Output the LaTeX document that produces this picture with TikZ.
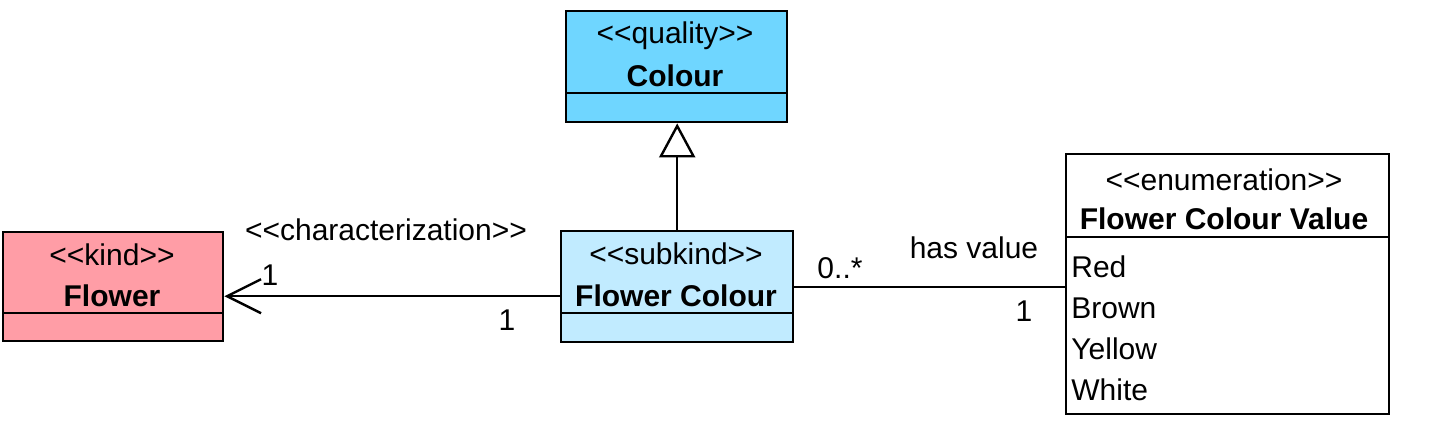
\documentclass[tikz,border=0pt]{standalone}
\usepackage{fontspec}
\setmainfont{Liberation Sans}
\usetikzlibrary{arrows.meta}
\definecolor{kindpink}{RGB}{255,157,166}
\definecolor{qualblue}{RGB}{111,214,255}
\definecolor{subblue}{RGB}{193,235,255}
\newcommand{\ltlt}{<\kern0pt<}
\newcommand{\gtgt}{>\kern0pt>}
\begin{document}
\begin{tikzpicture}[x=0.5pt,y=-0.5pt,
  cls/.style={draw=black, line width=1.2pt, inner sep=0pt, anchor=north west, rectangle},
  divider/.style={draw=black, line width=1.2pt},
  txt/.style={inner sep=0pt, anchor=base, font=\fontsize{15}{18}\selectfont},
  btxt/.style={inner sep=0pt, anchor=base, font=\fontsize{15}{18}\selectfont\bfseries},
  itemtxt/.style={inner sep=0pt, anchor=base west, font=\fontsize{15}{18}\selectfont},
  conn/.style={draw=black, line width=1.2pt},
  genarrow/.style={conn, -{Triangle[open, length=17pt, width=18pt, line width=1.2pt]}},
  navarrow/.style={conn, -{Straight Barb[length=17pt, width=17pt, line width=1.2pt]}}
]
\useasboundingbox (0,0) rectangle (1432,446);

% classes
\node[cls, fill=kindpink, minimum width=110pt, minimum height=54.5pt] (flower) at (2,231) {};
\node[cls, fill=qualblue, minimum width=110.5pt, minimum height=55.5pt] (colour) at (565,10) {};
\node[cls, fill=subblue, minimum width=116pt, minimum height=55.5pt] (fc) at (560,230) {};
\node[cls, fill=white, minimum width=161.5pt, minimum height=130pt] (enum) at (1065,153) {};

% dividers
\draw[divider] (flower.west |- 0,313) -- (flower.east |- 0,313);
\draw[divider] (colour.west |- 0,93) -- (colour.east |- 0,93);
\draw[divider] (fc.west |- 0,313) -- (fc.east |- 0,313);
\draw[divider] (enum.west |- 0,237) -- (enum.east |- 0,237);

% class texts
\node[txt] (flowerst) at (112,265) {\ltlt kind\gtgt};
\node[btxt] (flowername) at (112,306) {Flower};
\node[txt] (colourst) at (675,43) {\ltlt quality\gtgt};
\node[btxt] (colourname) at (675,86) {Colour};
\node[txt] (fcst) at (676,264) {\ltlt subkind\gtgt};
\node[btxt] (fcname) at (676,306) {Flower Colour};
\node[txt] (enumst) at (1224,190) {\ltlt enumeration\gtgt};
\node[btxt] (enumname) at (1224,229) {Flower Colour Value};
\node[itemtxt] (red) at (1071,277) {Red};
\node[itemtxt] (brown) at (1071,318) {Brown};
\node[itemtxt] (yellow) at (1071,359) {Yellow};
\node[itemtxt] (white) at (1071,400) {White};

% connectors
\draw[genarrow] (fc.north) -- (fc.north |- colour.south);
\draw[navarrow] ([yshift=-4.75pt]fc.west) -- ([yshift=-4.75pt]flower.east);
\draw[conn] (fc.east) -- (enum.west |- fc.east);

% connector labels
\node[txt] (charlbl) at (386,240) {\ltlt characterization\gtgt};
\node[txt] (m1) at (270,285) {1};
\node[txt] (m2) at (507,330) {1};
\node[txt] (m3) at (840,278) {0..*};
\node[txt] (hv) at (974,258) {has value};
\node[txt] (m4) at (1024,321) {1};
\end{tikzpicture}
\end{document}
